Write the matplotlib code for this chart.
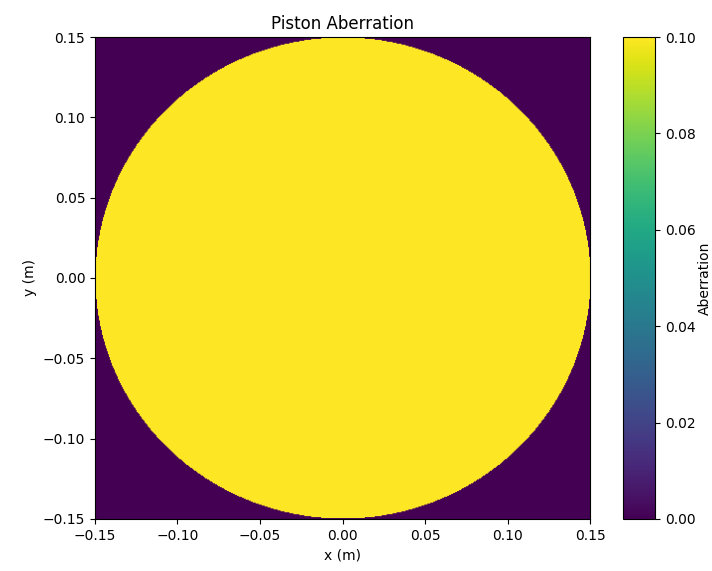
import numpy as np
import matplotlib.pyplot as plt

# Aperture and piston term
radius = 0.15          # aperture radius (m)
piston_coeff = 0.1     # piston aberration amplitude
n_points = 500

x = np.linspace(-radius, radius, n_points)
y = np.linspace(-radius, radius, n_points)
X, Y = np.meshgrid(x, y)
R = np.sqrt(X**2 + Y**2)

# Piston: constant over the pupil, zero outside
W = np.where(R <= radius, piston_coeff, 0.0)

fig = plt.figure(figsize=(7.12, 5.71), dpi=100)
ax = fig.add_axes([0.1334, 0.0911, 0.6953, 0.8441])
cax = fig.add_axes([0.875, 0.0911, 0.045, 0.8441])

im = ax.imshow(W, extent=[-radius, radius, -radius, radius], origin='lower',
               cmap='viridis', aspect='auto', interpolation='bilinear')
ax.set_title('Piston Aberration', fontsize=12)
ax.set_xlabel('x (m)')
ax.set_ylabel('y (m)')
ax.set_xticks(np.arange(-0.15, 0.151, 0.05))
ax.set_yticks(np.arange(-0.15, 0.151, 0.05))

cbar = fig.colorbar(im, cax=cax)
cbar.set_label('Aberration', labelpad=2)
cbar.set_ticks(np.arange(0, 0.101, 0.02))

fig.savefig('out.png', dpi=100)
